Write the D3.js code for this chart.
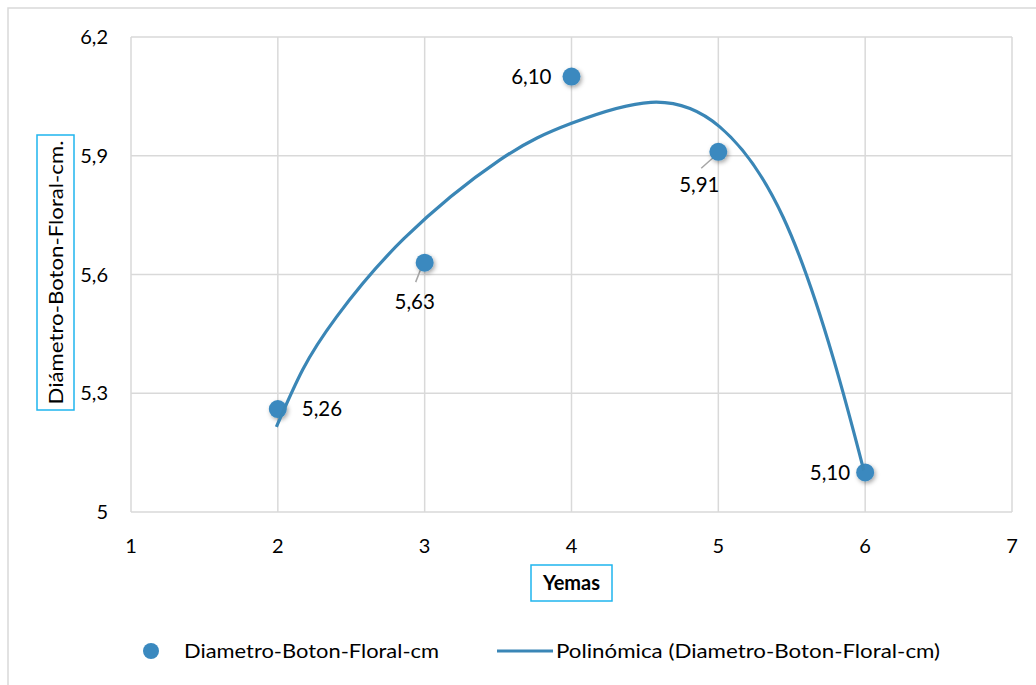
<!DOCTYPE html>
<html>
<head>
<meta charset="utf-8">
<style>
  body { margin: 0; background: #fff; }
  text { font-family: Lato, "Open Sans", sans-serif; fill: #000; }
  .tick-label { font-size: 20px; }
  .data-label { font-size: 20.5px; }
  .legend-text { font-size: 20px; }
</style>
</head>
<body>
<svg width="1036" height="685"></svg>
<script src="https://d3js.org/d3.v7.min.js"></script>
<script>

// data
var yemas = [2, 3, 4, 5, 6];
var diametro = [5.26, 5.63, 6.10, 5.91, 5.10];
var valueLabels = ["5,26", "5,63", "6,10", "5,91", "5,10"];

// polynomial trend line
var trendX = [1.99, 2.17, 2.40, 2.86, 3.51, 4.00, 4.54, 5.01, 5.44, 5.78, 5.99];
var trendY = [5.215, 5.36, 5.493, 5.691, 5.889, 5.982, 6.035, 5.973, 5.746, 5.392, 5.106];

var xTicks = [1, 2, 3, 4, 5, 6, 7];
var yTicks = [5, 5.3, 5.6, 5.9, 6.2];
var yTickLabels = ["5", "5,3", "5,6", "5,9", "6,2"];

var seriesName = "Diametro-Boton-Floral-cm";
var trendName = "Polinómica (Diametro-Boton-Floral-cm)";
var xTitle = "Yemas";
var yTitle = "Diámetro-Boton-Floral-cm.";

var blue = "#3a89bf";
var lineBlue = "#3a86b6";
var grid = "#d9d9d9";
var cyan = "#1fb5ee";

var svg = d3.select("svg");

// outer chart border
svg.append("rect")
    .attr("x", 8).attr("y", 8)
    .attr("width", 1040).attr("height", 690)
    .attr("fill", "none")
    .attr("stroke", grid)
    .attr("stroke-width", 1.5);

var margin = {top: 37, left: 131},
    width = 881,
    height = 475;

var x = d3.scaleLinear().domain([1, 7]).range([0, width]);
var y = d3.scaleLinear().domain([5, 6.2]).range([height, 0]);

var g = svg.append("g")
    .attr("transform", "translate(" + margin.left + "," + margin.top + ")");

// drop shadow for markers
var defs = svg.append("defs");
var f = defs.append("filter").attr("id", "shadow")
    .attr("x", "-50%").attr("y", "-50%").attr("width", "200%").attr("height", "200%");
f.append("feDropShadow")
    .attr("dx", 1.5).attr("dy", 2).attr("stdDeviation", 2)
    .attr("flood-color", "#000").attr("flood-opacity", 0.35);

// gridlines
g.selectAll(".vgrid").data(xTicks).enter().append("line")
    .attr("x1", function(d) { return x(d); })
    .attr("x2", function(d) { return x(d); })
    .attr("y1", 0).attr("y2", height)
    .attr("stroke", grid).attr("stroke-width", 1.5);

g.selectAll(".hgrid").data(yTicks).enter().append("line")
    .attr("x1", 0).attr("x2", width)
    .attr("y1", function(d) { return y(d); })
    .attr("y2", function(d) { return y(d); })
    .attr("stroke", grid).attr("stroke-width", 1.5);

// tick labels
g.selectAll(".ylab").data(yTicks).enter().append("text")
    .attr("class", "tick-label")
    .attr("x", -23)
    .attr("y", function(d) { return y(d); })
    .attr("dy", "0.35em")
    .attr("text-anchor", "end")
    .text(function(d, i) { return yTickLabels[i]; });

g.selectAll(".xlab").data(xTicks).enter().append("text")
    .attr("class", "tick-label")
    .attr("x", function(d) { return x(d); })
    .attr("y", height + 34)
    .attr("dy", "0.35em")
    .attr("text-anchor", "middle")
    .text(function(d) { return d; });

// trend line
var trend = trendX.map(function(d, i) { return [d, trendY[i]]; });
var line = d3.line()
    .x(function(d) { return x(d[0]); })
    .y(function(d) { return y(d[1]); })
    .curve(d3.curveNatural);

// label placement relative to each point
var labelPos = [
  {dx: 24, dy: 0, anchor: "start"},
  {dx: -10, dy: 39, anchor: "middle", leader: true},
  {dx: -20, dy: 0, anchor: "end"},
  {dx: -19, dy: 33, anchor: "middle", leader: true},
  {dx: -15, dy: 0, anchor: "end"}
];

var pts = yemas.map(function(d, i) { return {x: d, y: diametro[i], label: valueLabels[i], pos: labelPos[i]}; });

g.selectAll(".leader").data(pts.filter(function(d) { return d.pos.leader; }))
  .enter().append("line")
    .attr("x1", function(d) { return x(d.x) - 3; })
    .attr("y1", function(d) { return y(d.y) + 4; })
    .attr("x2", function(d) { return x(d.x) + d.pos.dx * 0.9; })
    .attr("y2", function(d) { return y(d.y) + d.pos.dy * 0.5; })
    .attr("stroke", "#a6a6a6").attr("stroke-width", 1.5);

g.selectAll(".dot").data(pts).enter().append("circle")
    .attr("cx", function(d) { return x(d.x); })
    .attr("cy", function(d) { return y(d.y); })
    .attr("r", 9)
    .attr("fill", blue)
    .attr("filter", "url(#shadow)");

g.append("path")
    .datum(trend)
    .attr("fill", "none")
    .attr("stroke", lineBlue)
    .attr("stroke-width", 3.2)
    .attr("stroke-linecap", "butt")
    .attr("d", line);

g.selectAll(".dlab").data(pts).enter().append("text")
    .attr("class", "data-label")
    .attr("x", function(d) { return x(d.x) + d.pos.dx; })
    .attr("y", function(d) { return y(d.y) + d.pos.dy; })
    .attr("dy", "0.35em")
    .attr("text-anchor", function(d) { return d.pos.anchor; })
    .text(function(d) { return d.label; });

// axis titles with cyan boxes
svg.append("rect")
    .attr("x", 37).attr("y", 135).attr("width", 37).attr("height", 275)
    .attr("fill", "none").attr("stroke", cyan).attr("stroke-width", 1.5);
svg.append("text")
    .attr("transform", "translate(56,272.5) rotate(-90)")
    .attr("text-anchor", "middle")
    .attr("dy", "0.35em")
    .attr("textLength", 264).attr("lengthAdjust", "spacingAndGlyphs")
    .style("font-size", "20px")
    .text(yTitle);

svg.append("rect")
    .attr("x", 531).attr("y", 565).attr("width", 81).attr("height", 36)
    .attr("fill", "none").attr("stroke", cyan).attr("stroke-width", 1.5);
svg.append("text")
    .attr("x", 571.5).attr("y", 583)
    .attr("text-anchor", "middle")
    .attr("dy", "0.35em")
    .style("font-size", "20px")
    .style("font-weight", "bold")
    .text(xTitle);

// legend
var legend = svg.append("g").attr("transform", "translate(0,651)");
legend.append("circle")
    .attr("cx", 151).attr("cy", 0).attr("r", 8)
    .attr("fill", blue);
legend.append("text")
    .attr("class", "legend-text")
    .attr("x", 184).attr("dy", "0.35em")
    .attr("textLength", 255).attr("lengthAdjust", "spacingAndGlyphs")
    .text(seriesName);
legend.append("line")
    .attr("x1", 497).attr("x2", 553)
    .attr("stroke", lineBlue).attr("stroke-width", 3.2);
legend.append("text")
    .attr("class", "legend-text")
    .attr("x", 556).attr("dy", "0.35em")
    .attr("textLength", 384).attr("lengthAdjust", "spacingAndGlyphs")
    .text(trendName);

</script>
</body>
</html>
